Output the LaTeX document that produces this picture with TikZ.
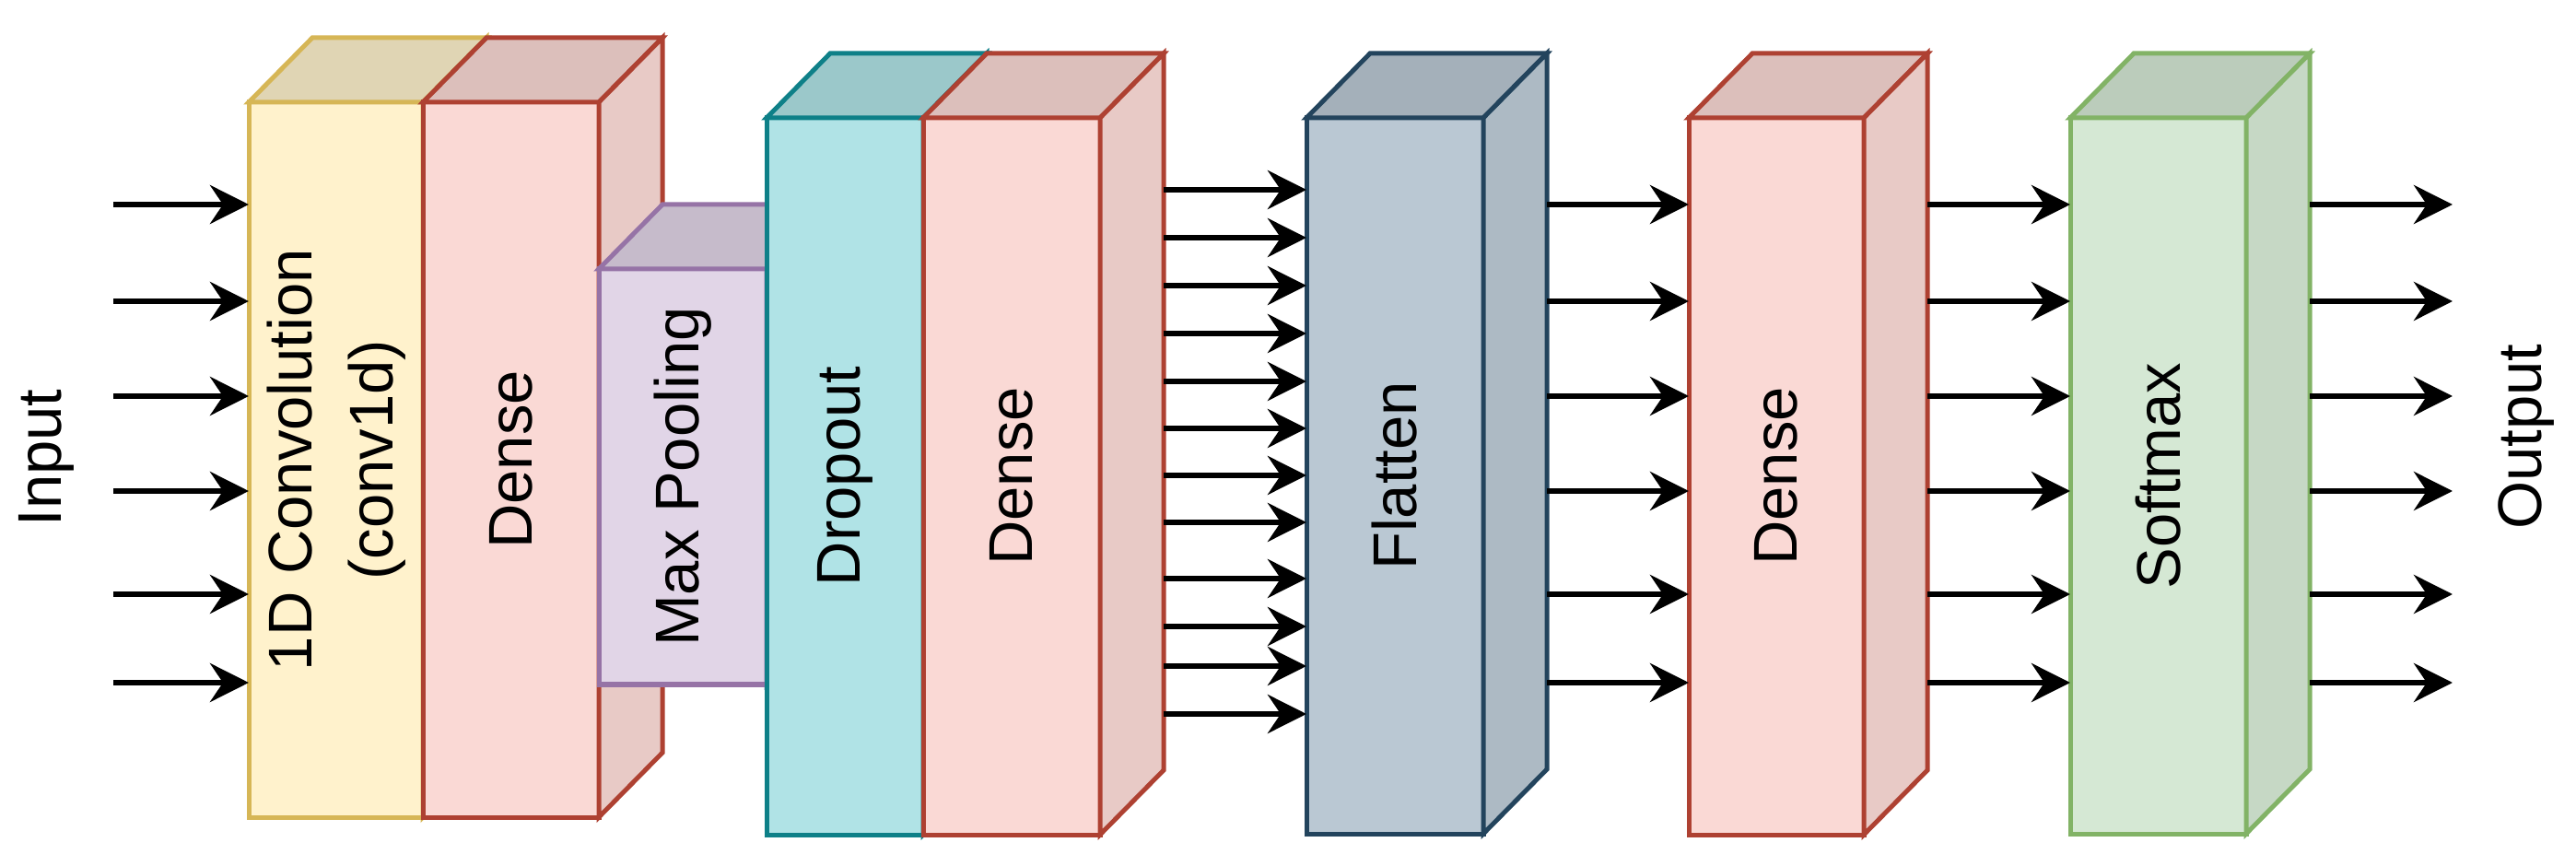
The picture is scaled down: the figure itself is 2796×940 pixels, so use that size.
\documentclass[tikz,border=0pt]{standalone}
\usepackage{fontspec}
\setmainfont{Liberation Sans}
\usetikzlibrary{arrows.meta,calc}
\definecolor{convF}{HTML}{FFF2CC}\definecolor{convS}{HTML}{D6B656}
\definecolor{denseF}{HTML}{FAD9D5}\definecolor{denseS}{HTML}{AE4132}
\definecolor{poolF}{HTML}{E1D5E7}\definecolor{poolS}{HTML}{9673A6}
\definecolor{dropF}{HTML}{B0E3E6}\definecolor{dropS}{HTML}{0E8088}
\definecolor{flatF}{HTML}{BAC8D3}\definecolor{flatS}{HTML}{23445D}
\definecolor{softF}{HTML}{D5E8D4}\definecolor{softS}{HTML}{82B366}
\tikzset{
  layer/.style={rectangle, inner sep=0pt, outer sep=0pt, line width=2.5pt,
    font=\fontsize{33.5}{44}\selectfont, align=center},
  face/.style={line width=2.5pt, line join=miter},
  arr/.style={line width=3pt, -{Stealth[length=21pt,width=21pt,inset=7pt]}},
  lbl/.style={font=\fontsize{33.5}{44}\selectfont, inner sep=0pt, outer sep=0pt}
}
% name, cx, cy (px), width, height (pt), fill, stroke, text
\newcommand\cubebox[8]{%
  \node[layer, fill=#6, draw=#7, minimum width=#4pt, minimum height=#5pt] (#1) at (#2,#3) {\rotatebox{90}{#8}};
  \filldraw[face, fill=#6!88!black, draw=#7] (#1.north west) -- ++(69,-70) -- ($(#1.north east)+(69,-70)$) -- (#1.north east) -- cycle;
  \filldraw[face, fill=#6!93!black, draw=#7] (#1.north east) -- ++(69,-70) -- ($(#1.south east)+(69,-70)$) -- (#1.south east) -- cycle;
  \coordinate (#1b) at ($(#1.east)+(69,0)$);
}
\begin{document}
\begin{tikzpicture}[x=0.5pt,y=-0.5pt]
\useasboundingbox (0,0) rectangle (2796,940);

\cubebox{conv}{364.5}{499}{94.5}{388}{convF}{convS}{\begin{tabular}{@{}c@{}}1D Convolution\\(conv1d)\end{tabular}}
\cubebox{da}{554.5}{499}{95.5}{388}{denseF}{denseS}{Dense}
\cubebox{pool}{741}{517.5}{91}{225.5}{poolF}{poolS}{Max Pooling}
\cubebox{drop}{917}{517}{85}{389}{dropF}{dropS}{Dropout}
\cubebox{db}{1098}{517}{96}{389}{denseF}{denseS}{Dense}
\cubebox{flat}{1514}{516.5}{96}{388.5}{flatF}{flatS}{Flatten}
\cubebox{dc}{1928}{517}{95}{389}{denseF}{denseS}{Dense}
\cubebox{soft}{2342.5}{516.5}{95.5}{388.5}{softF}{softS}{Softmax}

\node[lbl] (inlbl) at (50,497) {\rotatebox{90}{Input}};
\node[lbl] (outlbl) at (2742,474) {\rotatebox{90}{Output}};

\coordinate (in) at (123,0);
\coordinate (out) at (2662,0);

\foreach \y in {222,327,430,533,645,741} {
  \draw[arr] (in |- 0,\y) -- (conv.west |- 0,\y);
  \draw[arr] (flatb |- 0,\y) -- (dc.west |- 0,\y);
  \draw[arr] (dcb |- 0,\y) -- (soft.west |- 0,\y);
  \draw[arr] (softb |- 0,\y) -- (out |- 0,\y);
}
\foreach \y in {206,258,310,362,414,465,516,567,628,680,723,775} {
  \draw[arr] (dbb |- 0,\y) -- (flat.west |- 0,\y);
}
\end{tikzpicture}
\end{document}
